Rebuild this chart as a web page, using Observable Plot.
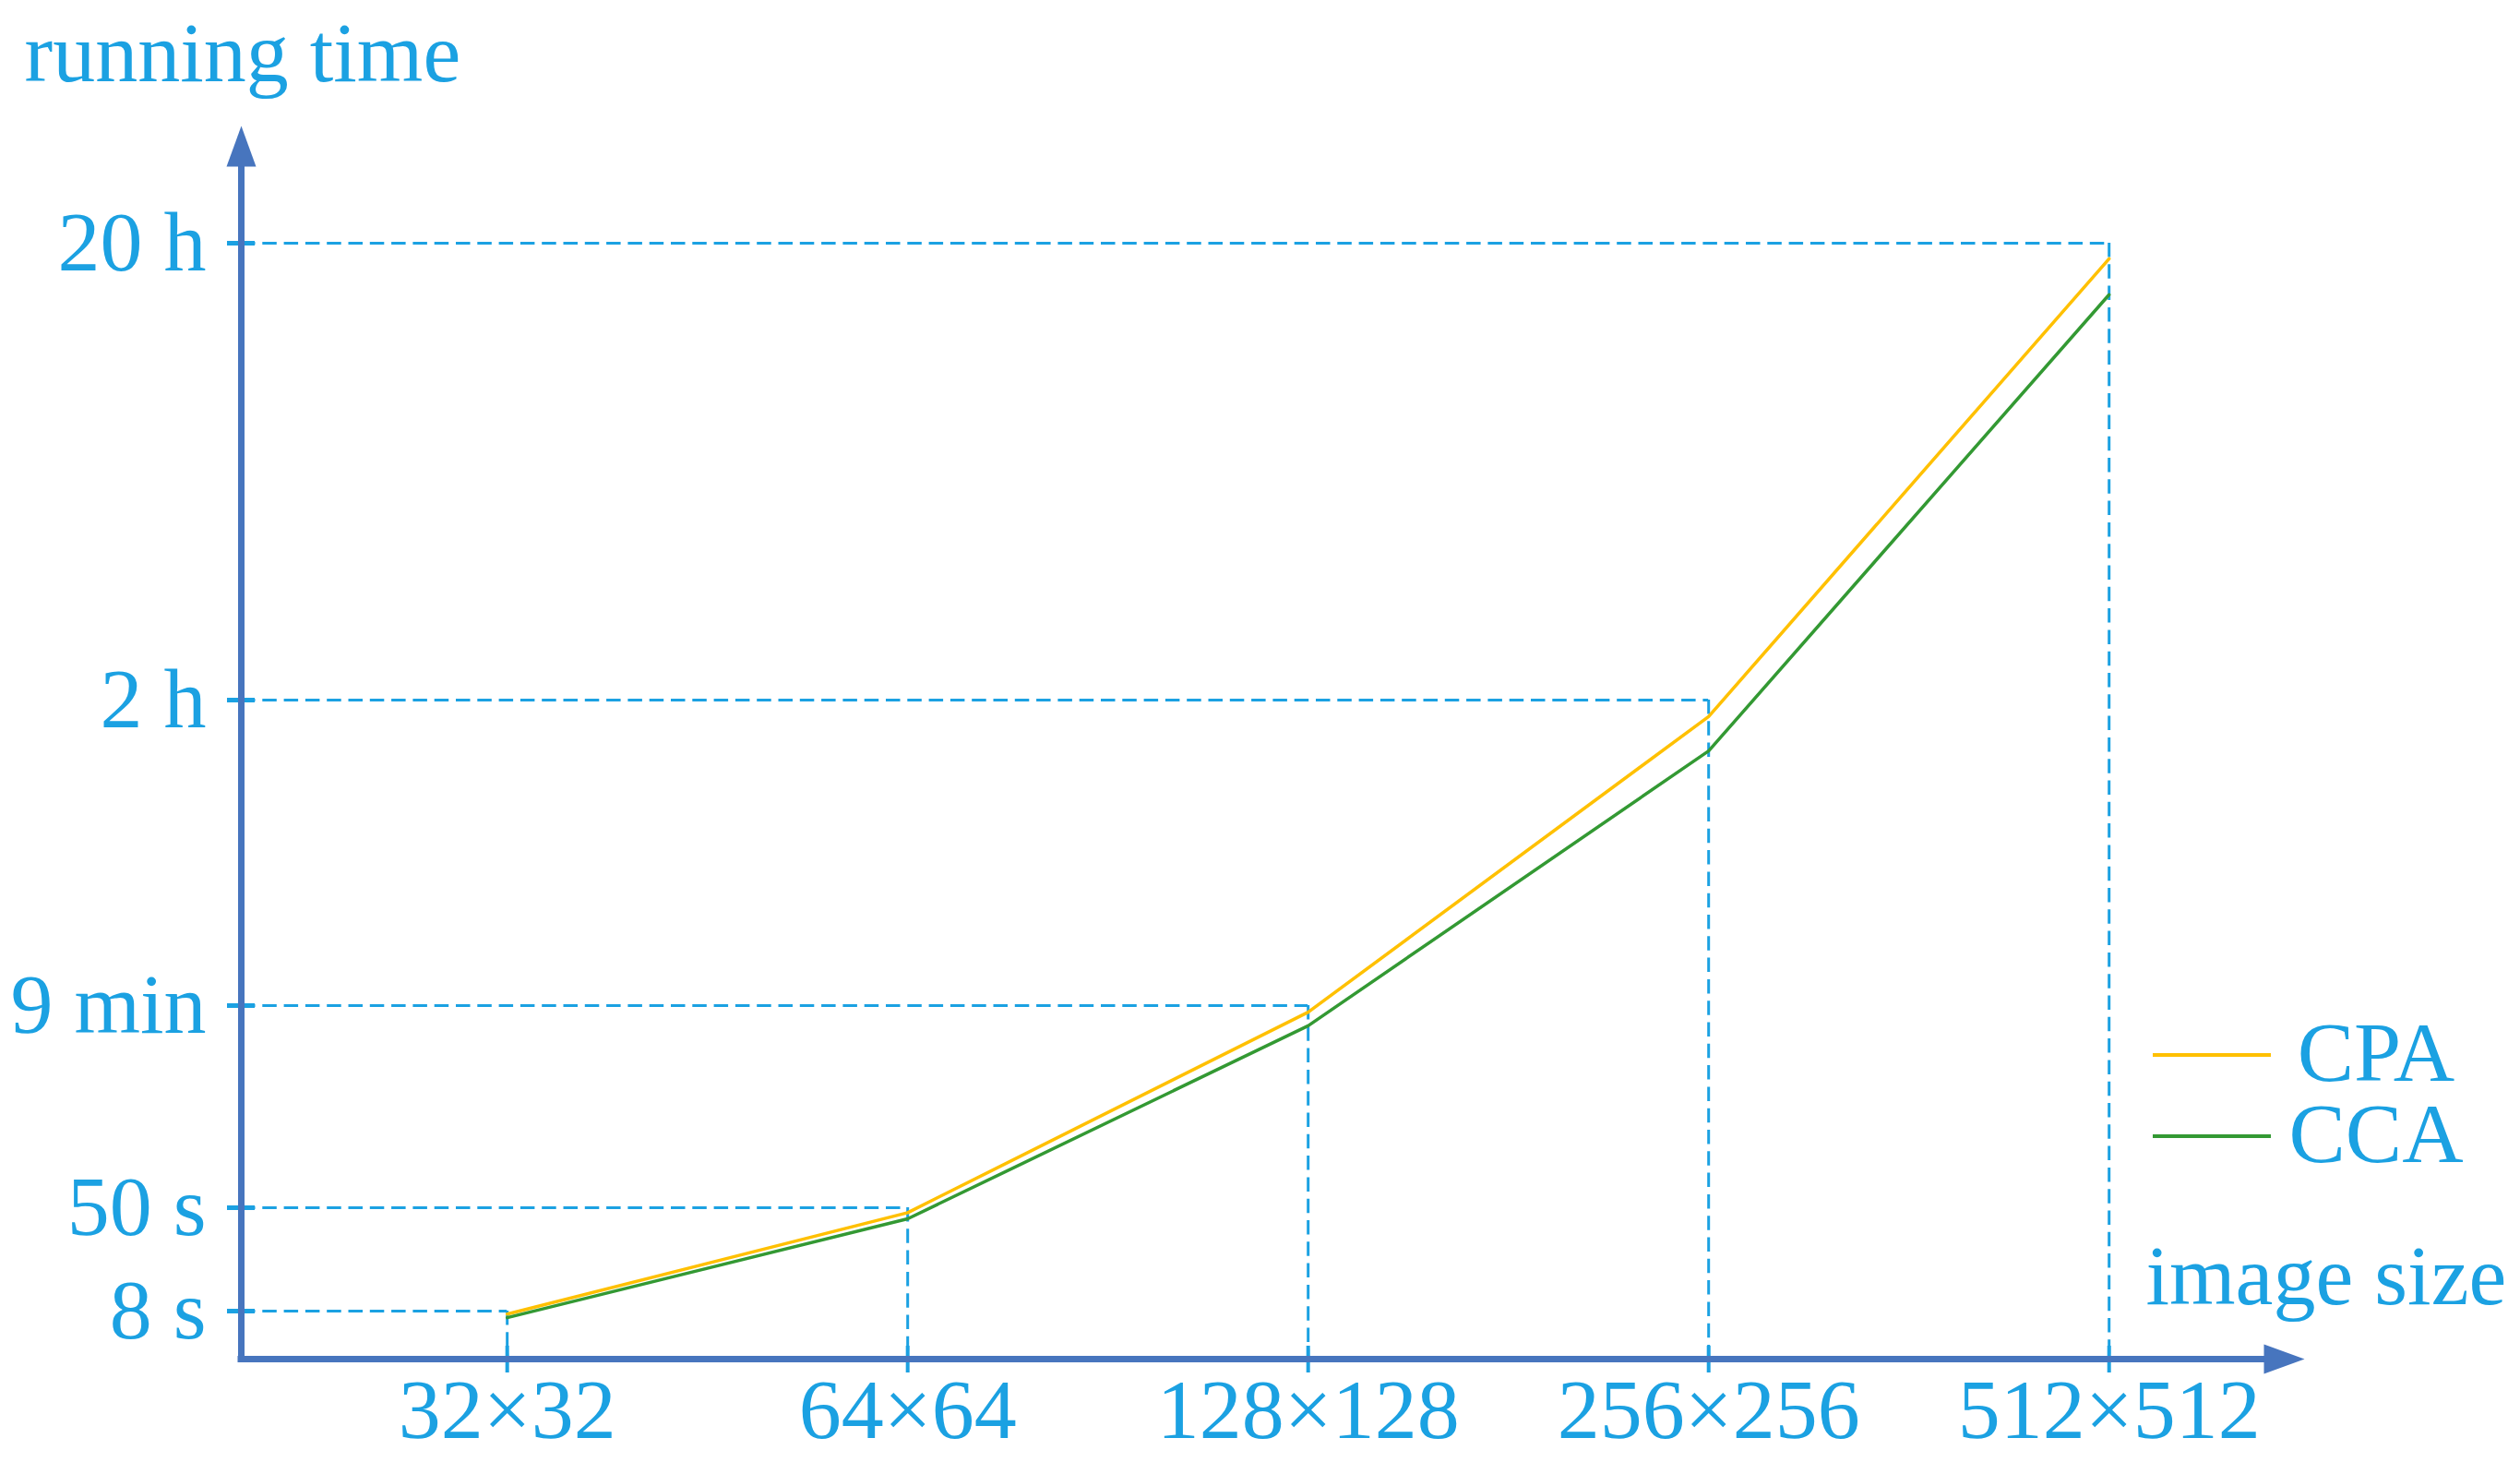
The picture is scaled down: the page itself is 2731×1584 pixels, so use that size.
<!DOCTYPE html>
<html><head><meta charset="utf-8">
<script src="https://cdn.jsdelivr.net/npm/d3@7"></script>
<script src="https://cdn.jsdelivr.net/npm/@observablehq/plot@0.6"></script>
<style>
html,body{margin:0;padding:0;background:#fff;}
#wrap{position:relative;width:2731px;height:1584px;font-family:"Liberation Serif","Times New Roman",serif;color:#1ba1e2;}
.leg{position:absolute;font-size:92px;line-height:80px;white-space:nowrap;width:200px;text-align:center;}
.sw{position:absolute;height:4px;width:128px;}
</style></head><body><div id="wrap"></div>
<script>
// ---- data ----
const sizes = ["32×32", "64×64", "128×128", "256×256", "512×512"];
const cpaSeconds = [7.5, 48, 524, 6840, 69800];
const ccaSeconds = [6.9, 45.5, 491, 6090, 64700];
const tickSeconds = [8, 50, 540, 7200, 72000];
const tickLabels = ["8 s", "50 s", "9 min", "2 h", "20 h"];
const seriesNames = ["CPA", "CCA"];
const seriesColors = ["#ffc000", "#339933"];

// ---- styling / layout ----
const light = "#1ba1e2";
const axisColor = "#4775be";
const font = "Liberation Serif";
const W = 2731, H = 1584;
const mTop = 136, mRight = 234, mBottom = 112, mLeft = 261;
const xMin = -0.664, xMax = 4.488;   // axis origin and arrow tip, in category-index units
const yTop = 90000;                  // value at arrow tip
// hand-drawn (piecewise) vertical scale of the original figure
const yDomain = [0, ...tickSeconds, yTop];
const yRange = [1472, 1420, 1308, 1089, 758, 263, 136];
const dash = "15.5,7.8";

const rows = [];
sizes.forEach((s, i) => {
  rows.push({i, t: cpaSeconds[i], series: seriesNames[0]});
  rows.push({i, t: ccaSeconds[i], series: seriesNames[1]});
});
const guides = tickSeconds.map((t, i) => ({i, t}));

const arrowHead = {draw(ctx) { ctx.moveTo(0, 0); ctx.lineTo(16, 44); ctx.lineTo(-16, 44); ctx.closePath(); }};
const heads = [{x: xMin, y: yTop, rot: 0}, {x: xMax, y: 0, rot: 90}];

const chart = Plot.plot({
  width: W, height: H,
  marginTop: mTop, marginRight: mRight, marginBottom: mBottom, marginLeft: mLeft,
  style: {fontFamily: font, fontSize: "92px", background: "white", overflow: "visible"},
  x: {type: "linear", domain: [xMin, xMax]},
  y: {type: "linear", domain: yDomain, range: yRange},
  color: {domain: seriesNames, range: seriesColors},
  marks: [
    Plot.ruleY(guides, {y: "t", x1: xMin, x2: "i", stroke: light, strokeWidth: 3, strokeDasharray: dash}),
    Plot.ruleX(guides, {x: "i", y1: "t", y2: 0, stroke: light, strokeWidth: 3, strokeDasharray: dash}),
    Plot.axisX(d3.range(sizes.length), {anchor: "bottom", tickSize: 29, dy: -14, tickPadding: 5,
      tickFormat: i => sizes[i], color: light, strokeWidth: 4, fontSize: 92, fontFamily: font, label: null}),
    Plot.axisY(tickSeconds, {anchor: "left", tickSize: 30, dx: 15, tickPadding: 23,
      tickFormat: d => tickLabels[tickSeconds.indexOf(d)], color: light, strokeWidth: 5, fontSize: 92, fontFamily: font, label: null}),
    Plot.ruleX([xMin], {y1: yTop, y2: 0, stroke: axisColor, strokeWidth: 7, insetTop: 40, strokeLinecap: "square"}),
    Plot.ruleY([0], {x1: xMin, x2: xMax, stroke: axisColor, strokeWidth: 7, insetRight: 40, strokeLinecap: "square"}),
    Plot.dot(heads, {x: "x", y: "y", rotate: "rot", symbol: arrowHead, r: 1, fill: axisColor, stroke: null}),
    Plot.line(rows, {x: "i", y: "t", z: "series", stroke: "series", strokeWidth: 3.5}),
    Plot.text(["running time"], {frameAnchor: "top-left", textAnchor: "start", lineAnchor: "bottom", dx: -235, dy: -49, fontSize: 92, fontFamily: font, fill: light}),
    Plot.text(["image size"], {frameAnchor: "bottom-right", textAnchor: "start", lineAnchor: "bottom", dx: -172, dy: -60, fontSize: 92, fontFamily: font, fill: light})
  ]
});
const wrap = document.getElementById("wrap");
wrap.appendChild(chart);

// legend
const legTop = [1141, 1229];
seriesNames.forEach((name, k) => {
  const sw = document.createElement("div");
  sw.className = "sw";
  sw.style.left = "2333px";
  sw.style.top = legTop[k] + "px";
  sw.style.background = seriesColors[k];
  wrap.appendChild(sw);
  const t = document.createElement("div");
  t.className = "leg";
  t.style.left = "2475px";
  t.style.top = (legTop[k] - 41) + "px";
  t.textContent = name;
  wrap.appendChild(t);
});
</script></body></html>
